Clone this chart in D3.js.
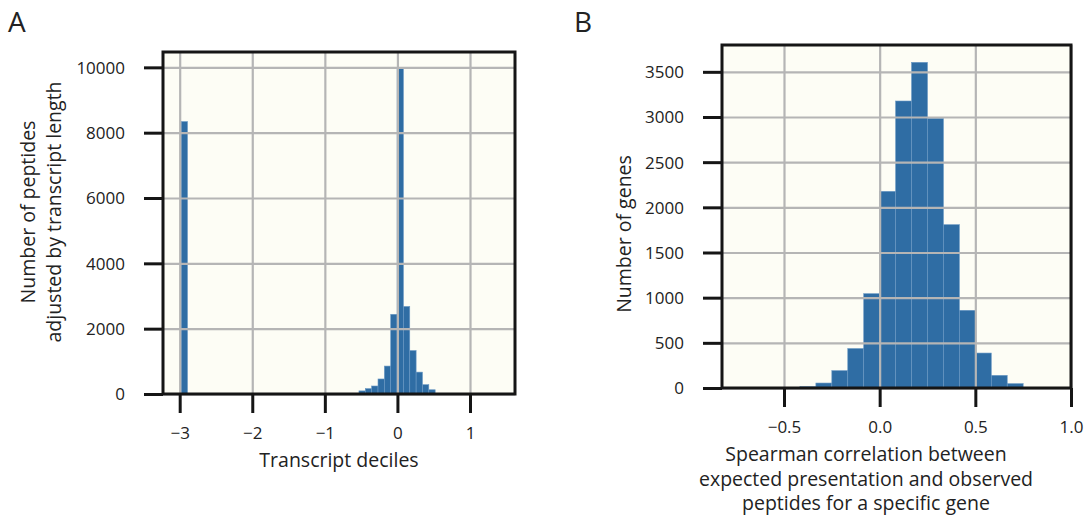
<!DOCTYPE html>
<html>
<head>
<meta charset="utf-8">
<script src="https://cdn.jsdelivr.net/npm/d3@7"></script>
<style>
  body { margin: 0; background: #fff; }
  text { font-family: "Open Sans", sans-serif; fill: #222; }
</style>
</head>
<body>
<div id="container"></div>
<script>
"use strict";

// panel A: histogram of transcript deciles (left bin edges + counts)
const binEdgesA = [-2.98, -0.53, -0.4425, -0.355, -0.2675, -0.18, -0.0925, -0.005, 0.0825, 0.17, 0.2575, 0.345, 0.4325];
const countsA = [8340, 95, 165, 245, 460, 855, 2440, 9970, 2680, 1330, 670, 285, 130];
const binWidthA = 0.0875;
const xTicksA = [-3, -2, -1, 0, 1];
const yTicksA = [0, 2000, 4000, 6000, 8000, 10000];
const xDomainA = [-3.23, 1.62];
const yDomainA = [0, 10470];

// panel B: histogram of spearman correlations
const binEdgesB = [-5/12, -4/12, -3/12, -2/12, -1/12, 0, 1/12, 2/12, 3/12, 4/12, 5/12, 6/12, 7/12, 8/12];
const countsB = [15, 55, 192, 437, 1044, 2177, 3177, 3605, 2985, 1808, 860, 387, 140, 48];
const binWidthB = 1 / 12;
const xTicksB = [-0.5, 0, 0.5, 1.0];
const yTicksB = [0, 500, 1000, 1500, 2000, 2500, 3000, 3500];
const xDomainB = [-0.824, 1.0];
const yDomainB = [0, 3797];

const width = 1086;
const height = 521;
const barColor = "#2f6da4";
const gridColor = "#b5b5b5";

const svg = d3.select("#container")
  .append("svg")
  .attr("width", width)
  .attr("height", height);

const drawPanel = (cfg) => {
  const x = d3.scaleLinear().domain(cfg.xDomain).range([cfg.left, cfg.right]);
  const y = d3.scaleLinear().domain(cfg.yDomain).range([cfg.bottom, cfg.top]);
  const g = svg.append("g");

  // background
  g.append("rect")
    .attr("x", cfg.left).attr("y", cfg.top)
    .attr("width", cfg.right - cfg.left).attr("height", cfg.bottom - cfg.top)
    .style("fill", "#fdfdf5");

  // bars
  g.selectAll("bars").data(cfg.edges)
    .enter()
    .append("rect")
    .attr("x", (d) => x(d))
    .attr("y", (d, i) => y(cfg.counts[i]))
    .attr("width", (d) => x(d + cfg.binWidth) - x(d))
    .attr("height", (d, i) => y(0) - y(cfg.counts[i]))
    .style("fill", barColor)
    .style("stroke", "#6a98c4")
    .style("stroke-width", 0.6);

  // grid on top of bars
  g.append("g")
    .attr("transform", `translate(0,${cfg.bottom})`)
    .call(d3.axisBottom(x).tickValues(cfg.xTicks).tickSize(-(cfg.bottom - cfg.top)).tickFormat(""))
    .call((a) => a.select(".domain").remove())
    .selectAll("line").style("stroke", gridColor).style("stroke-width", 2.2);
  g.append("g")
    .attr("transform", `translate(${cfg.left},0)`)
    .call(d3.axisLeft(y).tickValues(cfg.yTicks).tickSize(-(cfg.right - cfg.left)).tickFormat(""))
    .call((a) => a.select(".domain").remove())
    .selectAll("line").style("stroke", gridColor).style("stroke-width", 2.2);

  // frame
  g.append("rect")
    .attr("x", cfg.left).attr("y", cfg.top)
    .attr("width", cfg.right - cfg.left).attr("height", cfg.bottom - cfg.top)
    .style("fill", "none").style("stroke", "#151515").style("stroke-width", 3);

  // axes with long outward ticks
  const xAxis = g.append("g")
    .attr("transform", `translate(0,${cfg.bottom})`)
    .call(d3.axisBottom(x).tickValues(cfg.xTicks).tickSize(19).tickPadding(14).tickFormat(cfg.xFormat));
  const yAxis = g.append("g")
    .attr("transform", `translate(${cfg.left},0)`)
    .call(d3.axisLeft(y).tickValues(cfg.yTicks).tickSize(19).tickPadding(19).tickFormat(d3.format("d")));
  for (const a of [xAxis, yAxis]) {
    a.select(".domain").remove();
    a.selectAll("line").style("stroke", "#151515").style("stroke-width", 3);
    a.selectAll("text").style("font-size", "17px").style("font-family", "\"Open Sans\", sans-serif").style("fill", "#222");
  }
  yAxis.selectAll("text").attr("dy", "0.35em");

  return g;
};

const gA = drawPanel({
  left: 163, right: 515, top: 52, bottom: 394,
  xDomain: xDomainA, yDomain: yDomainA,
  edges: binEdgesA, counts: countsA, binWidth: binWidthA,
  xTicks: xTicksA, yTicks: yTicksA, xFormat: d3.format("d")
});

const gB = drawPanel({
  left: 722, right: 1071, top: 45, bottom: 388,
  xDomain: xDomainB, yDomain: yDomainB,
  edges: binEdgesB, counts: countsB, binWidth: binWidthB,
  xTicks: xTicksB, yTicks: yTicksB, xFormat: d3.format(".1f")
});

// panel letters
svg.append("text").attr("x", 8).attr("y", 32).text("A").style("font-size", "28px");
svg.append("text").attr("x", 574).attr("y", 32).text("B").style("font-size", "28px");

// axis titles
const labelSize = "19.5px";
gA.append("text")
  .attr("x", 339).attr("y", 467)
  .attr("text-anchor", "middle")
  .style("font-size", labelSize)
  .text("Transcript deciles");

const yLabelA = ["Number of peptides", "adjusted by transcript length"];
yLabelA.forEach((line, i) => {
  gA.append("text")
    .attr("transform", `translate(${35 + i * 26},212) rotate(-90)`)
    .attr("text-anchor", "middle")
    .style("font-size", labelSize)
    .text(line);
});

gB.append("text")
  .attr("transform", "translate(631,234) rotate(-90)")
  .attr("text-anchor", "middle")
  .style("font-size", labelSize)
  .text("Number of genes");

const xLabelB = ["Spearman correlation between", "expected presentation and observed", "peptides for a specific gene"];
xLabelB.forEach((line, i) => {
  gB.append("text")
    .attr("x", 866).attr("y", 461 + i * 24.5)
    .attr("text-anchor", "middle")
    .style("font-size", labelSize)
    .text(line);
});
</script>
</body>
</html>
